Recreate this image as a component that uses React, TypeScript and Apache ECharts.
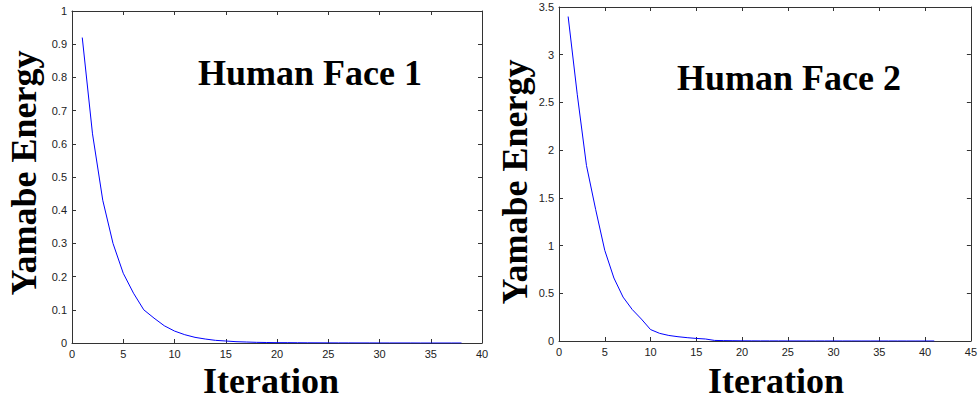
import React, { useEffect, useRef } from "react";
import * as echarts from "echarts";

// Human Face 1: Yamabe energy per iteration (iterations 1..38)
const face1Energy = [
  0.92, 0.63, 0.43, 0.3, 0.21, 0.15, 0.1, 0.075, 0.052, 0.036,
  0.025, 0.017, 0.012, 0.008, 0.006, 0.004, 0.003, 0.002, 0.0015, 0.001,
  0.001, 0.0008, 0.0006, 0.0005, 0.0004, 0.0003, 0.0003, 0.0002, 0.0002, 0.0001,
  0.0001, 0.0001, 0.0001, 0, 0, 0, 0, 0,
];
// Human Face 2: Yamabe energy per iteration (iterations 1..41)
const face2Energy = [
  3.4, 2.58, 1.84, 1.38, 0.95, 0.66, 0.46, 0.33, 0.23, 0.12,
  0.08, 0.058, 0.045, 0.035, 0.027, 0.021, 0.006, 0.004, 0.003, 0.002,
  0.0015, 0.001, 0.001, 0.001, 0.0008, 0.0008, 0.0006, 0.0006, 0.0005, 0.0005,
  0.0004, 0.0004, 0.0003, 0.0003, 0.0002, 0.0002, 0.0002, 0.0001, 0.0001, 0.0001,
  0.0001,
];

const titles = ["Human Face 1", "Human Face 2"];
const xAxisName = "Iteration";
const yAxisName = "Yamabe Energy";
const xMax = [40, 45];
const yMax = [1, 3.5];
const yStep = [0.1, 0.5];
const xStep = 5;

const SANS = "Liberation Sans, Arial, sans-serif";
const SERIF = "Liberation Serif, Times New Roman, serif";
const AXIS_COLOR = "#333";
const LABEL_COLOR = "#222";

function axis(gridIndex: number, position: string, max: number, interval: number, labels: boolean) {
  return {
    type: "value",
    gridIndex,
    position,
    min: 0,
    max,
    interval,
    axisLine: { show: true, onZero: false, lineStyle: { color: AXIS_COLOR, width: 1 } },
    axisTick: { show: true, inside: true, length: 4, lineStyle: { color: AXIS_COLOR, width: 1 } },
    axisLabel: {
      show: labels,
      color: LABEL_COLOR,
      fontFamily: SANS,
      fontSize: 11,
      margin: 5,
    },
    splitLine: { show: false },
  };
}

export default function App() {
  const ref = useRef<HTMLDivElement>(null);
  useEffect(() => {
    if (!ref.current) return;
    const chart = echarts.init(ref.current, undefined, { renderer: "svg" });
    const toPairs = (arr: number[]) => arr.map((v, i) => [i + 1, v]);
    const option = {
      animation: false,
      backgroundColor: "#fff",
      grid: [
        { left: 72, top: 11, width: 410, height: 332 },
        { left: 559, top: 7, width: 414, height: 334 },
      ],
      xAxis: [
        axis(0, "bottom", xMax[0], xStep, true),
        axis(0, "top", xMax[0], xStep, false),
        axis(1, "bottom", xMax[1], xStep, true),
        axis(1, "top", xMax[1], xStep, false),
      ],
      yAxis: [
        axis(0, "left", yMax[0], yStep[0], true),
        axis(0, "right", yMax[0], yStep[0], false),
        axis(1, "left", yMax[1], yStep[1], true),
        axis(1, "right", yMax[1], yStep[1], false),
      ],
      series: [
        {
          type: "line",
          xAxisIndex: 0,
          yAxisIndex: 0,
          data: toPairs(face1Energy),
          showSymbol: false,
          lineStyle: { color: "#0000ff", width: 1 },
          itemStyle: { color: "#0000ff" },
        },
        {
          type: "line",
          xAxisIndex: 2,
          yAxisIndex: 2,
          data: toPairs(face2Energy),
          showSymbol: false,
          lineStyle: { color: "#0000ff", width: 1 },
          itemStyle: { color: "#0000ff" },
        },
      ],
      graphic: [
        {
          type: "text",
          x: 310,
          y: 73,
          style: { text: titles[0], font: `bold 36px ${SERIF}`, fill: "#000", align: "center", verticalAlign: "middle" },
        },
        {
          type: "text",
          x: 789,
          y: 78,
          style: { text: titles[1], font: `bold 36px ${SERIF}`, fill: "#000", align: "center", verticalAlign: "middle" },
        },
        {
          type: "text",
          x: 271,
          y: 381,
          style: { text: xAxisName, font: `bold 36px ${SERIF}`, fill: "#000", align: "center", verticalAlign: "middle" },
        },
        {
          type: "text",
          x: 776,
          y: 381,
          style: { text: xAxisName, font: `bold 36px ${SERIF}`, fill: "#000", align: "center", verticalAlign: "middle" },
        },
        {
          type: "text",
          x: 24,
          y: 173,
          rotation: Math.PI / 2,
          style: { text: yAxisName, font: `bold 36px ${SERIF}`, fill: "#000", align: "center", verticalAlign: "middle" },
        },
        {
          type: "text",
          x: 515,
          y: 182,
          rotation: Math.PI / 2,
          style: { text: yAxisName, font: `bold 36px ${SERIF}`, fill: "#000", align: "center", verticalAlign: "middle" },
        },
      ],
    };
    chart.setOption(option as any);
    return () => chart.dispose();
  }, []);
  return (
    <div
      ref={ref}
      style={{ position: "fixed", left: 0, top: 0, width: 980, height: 403, background: "#fff" }}
    />
  );
}
